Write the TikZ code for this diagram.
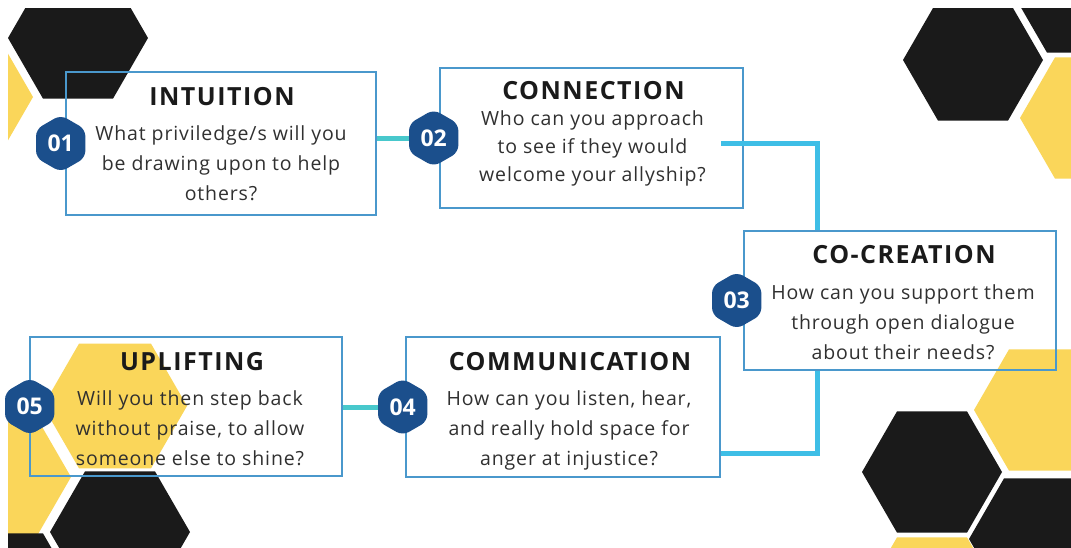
\documentclass[tikz,border=0pt]{standalone}
\usepackage{fontspec}
\setmainfont{Open Sans}[LetterSpace=4.5]
\newfontfamily\headfont{Open Sans}[LetterSpace=6]
\newfontfamily\numfont{Open Sans}
\usetikzlibrary{shapes.geometric}

\definecolor{boxblue}{RGB}{74,152,204}
\definecolor{tealline}{RGB}{72,200,204}
\definecolor{skyline}{RGB}{62,190,230}
\definecolor{badgeblue}{RGB}{27,79,140}
\definecolor{hexblack}{RGB}{26,26,26}
\definecolor{hexyellow}{RGB}{250,214,90}
\definecolor{inkgray}{RGB}{48,48,48}

% 六边形：中心 (#1,#2)，半径 #3，颜色 #4
\newcommand{\honeycell}[4]{%
  \fill[#4] (#1,#2) +(0:#3) -- +(60:#3) -- +(120:#3) -- +(180:#3)
    -- +(240:#3) -- +(300:#3) -- cycle;}

\begin{document}
\begin{tikzpicture}[x=1pt, y=-1pt,
    card/.style={draw=boxblue, line width=2.6pt, rectangle, inner sep=0pt},
    badge/.style={regular polygon, regular polygon sides=6, shape border rotate=30,
      minimum size=57pt, inner sep=0pt, fill=badgeblue, rounded corners=7pt,
      text=white, font=\numfont\bfseries\fontsize{23}{23}\selectfont},
    title/.style={anchor=base, inner sep=0pt, text=hexblack,
      font=\headfont\bfseries\fontsize{25}{25}\selectfont},
    body/.style={anchor=north, inner sep=0pt, align=center, text=inkgray,
      font=\fontsize{19.5}{30}\selectfont},
    tealwire/.style={draw=tealline, line width=5pt},
    skywire/.style={draw=skyline, line width=5pt}]

    % 画布与白底
    \useasboundingbox (0,0) rectangle (1071,547);
    \fill[white] (0,0) rectangle (1071,547);

    % 背景蜂窝
    \begin{scope}
        \clip (8,8) rectangle (1071,547);
        % 左上
        \honeycell{78}{38}{70}{hexblack}
        \honeycell{-32}{97}{65}{hexyellow}
        % 右上
        \honeycell{973}{60}{70}{hexblack}
        \honeycell{1082}{-8}{70}{hexblack}
        \honeycell{1090}{118}{70}{hexyellow}
        % 右下
        \honeycell{1044}{410}{70}{hexyellow}
        \honeycell{932}{472}{70}{hexblack}
        \honeycell{1039}{539}{70}{hexblack}
        \honeycell{932}{598}{70}{hexyellow}
        % 左下
        \honeycell{115}{406}{72}{hexyellow}
        \honeycell{3}{477}{68}{hexyellow}
        \honeycell{120}{532}{70}{hexblack}
        \honeycell{8}{594}{70}{hexblack}
    \end{scope}

    % 五个步骤框
    \node[card, minimum width=310pt, minimum height=143pt] (intu) at (221,143.5) {};
    \node[card, minimum width=303pt, minimum height=140pt] (conn) at (591.5,138) {};
    \node[card, minimum width=312pt, minimum height=139pt] (cocr) at (900,300.5) {};
    \node[card, minimum width=314pt, minimum height=140pt] (comm) at (563,407) {};
    \node[card, minimum width=312pt, minimum height=139pt] (upli) at (186,406.5) {};

    % 标题
    \node[title] (intuT) at ([shift={(1,35)}]intu.north) {INTUITION};
    \node[title] (connT) at ([shift={(2,33)}]conn.north) {CONNECTION};
    \node[title] (cocrT) at ([shift={(4,34)}]cocr.north) {CO-CREATION};
    \node[title] (commT) at ([shift={(7,35)}]comm.north) {COMMUNICATION};
    \node[title] (upliT) at ([shift={(6,35)}]upli.north) {UPLIFTING};

    % 问题文字
    \node[body] (intuB) at ([shift={(0,55)}]intu.north)
        {What priviledge/s will you\\be drawing upon to help\\others?};
    \node[body, font=\fontsize{19.5}{28}\selectfont] (connB) at ([shift={(1,44)}]conn.north)
        {Who can you approach\\to see if they would\\welcome your allyship?};
    \node[body] (cocrB) at ([shift={(3,55)}]cocr.north)
        {How can you support them\\through open dialogue\\about their needs?};
    \node[body] (commB) at ([shift={(6,55)}]comm.north)
        {How can you listen, hear,\\and really hold space for\\anger at injustice?};
    \node[body] (upliB) at ([shift={(4,55)}]upli.north)
        {Will you then step back\\without praise, to allow\\someone else to shine?};

    % 连线
    \draw[tealwire] (intu.east |- conn.west) -- (conn.west);
    \draw[skywire] ([shift={(-23,5)}]conn.east) -| ([xshift=-83pt]cocr.north);
    \draw[skywire] ([xshift=-83pt]cocr.south) |- ([shift={(0,46)}]comm.east);
    \draw[tealwire] (upli.east |- comm.west) -- (comm.west);

    % 编号
    \node[badge] (n01) at ([xshift=-4pt]intu.west) {01};
    \node[badge] (n02) at ([xshift=-5pt]conn.west) {02};
    \node[badge] (n03) at ([xshift=-6pt]cocr.west) {03};
    \node[badge] (n04) at ([xshift=-2pt]comm.west) {04};
    \node[badge] (n05) at ([xshift=1pt]upli.west) {05};
\end{tikzpicture}
\end{document}
